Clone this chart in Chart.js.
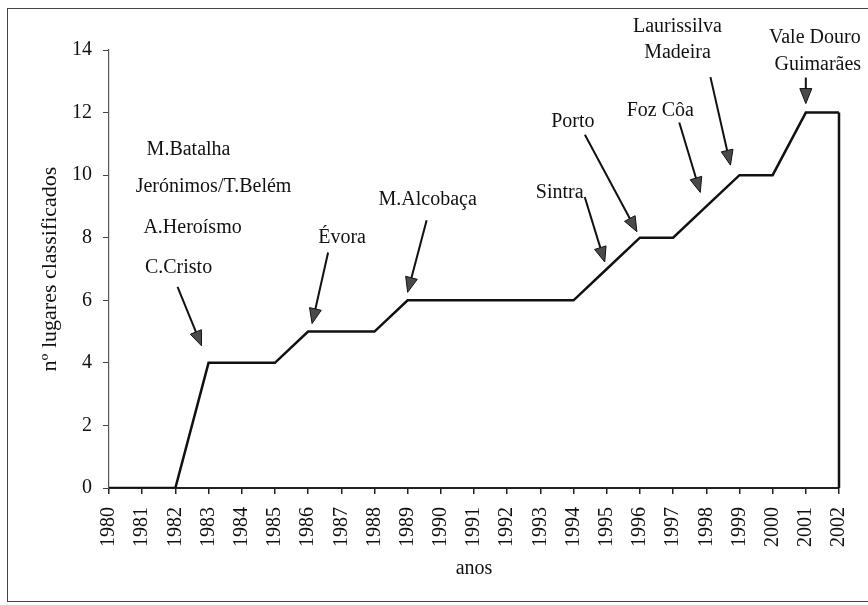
<!DOCTYPE html>
<html>
<head>
<meta charset="utf-8">
<script src="https://cdn.jsdelivr.net/npm/chart.js@4/dist/chart.umd.min.js"></script>
<style>
    body { margin: 0; background: #fff; overflow: hidden; }
    #frame {
        position: absolute; left: 7px; top: 8px; width: 900px; height: 592px;
        border: 1.5px solid #444; border-right: none; pointer-events: none;
    }
    canvas { position: absolute; left: 0; top: 0; }
</style>
</head>
<body>
<canvas id="sitesChart" width="868" height="605"></canvas>
<div id="frame"></div>
<script>
const years = ["1980", "1981", "1982", "1983", "1984", "1985", "1986", "1987", "1988", "1989", "1990",
    "1991", "1992", "1993", "1994", "1995", "1996", "1997", "1998", "1999", "2000", "2001", "2002"];
const sites = [0, 0, 0, 4, 4, 4, 5, 5, 5, 6, 6, 6, 6, 6, 6, 7, 8, 8, 9, 10, 10, 12, 12];
const yTicks = [0, 2, 4, 6, 8, 10, 12, 14];

// annotation texts and the year each arrow points at
const noteYears = ["1983", "1986", "1989", "1995", "1996", "1998", "1999", "2001"];
const noteTexts = [
    ["M.Batalha", "Jerónimos/T.Belém", "A.Heroísmo", "C.Cristo"],
    ["Évora"],
    ["M.Alcobaça"],
    ["Sintra"],
    ["Porto"],
    ["Foz Côa"],
    ["Laurissilva", "Madeira"],
    ["Vale Douro", "Guimarães"],
];

// pixel offsets from the anchored point: text centres, arrow start, arrow tip
const noteLayout = [
    { text: [[-20, -213], [5, -176], [-16, -135], [-30, -95]], from: [-31, -76], to: [-7, -17] },
    { text: [[34, -94]], from: [20, -79], to: [4, -8] },
    { text: [[20, -101]], from: [19, -80], to: [0, -8] },
    { text: [[-47, -76]], from: [-22, -72], to: [-2, -7] },
    { text: [[-67, -116]], from: [-55, -103], to: [-3, -6] },
    { text: [[-46, -96]], from: [-27, -84], to: [-6, -14] },
    { text: [[-62, -148], [-62, -122]], from: [-29, -98], to: [-9, -10] },
    { text: [[9, -75], [12, -48]], from: [0, -35], to: [0, -9] },
];

const serif = "'Liberation Serif', 'Times New Roman', serif";

function drawArrow(ctx, x1, y1, x2, y2) {
    const angle = Math.atan2(y2 - y1, x2 - x1);
    const headLen = 15;
    const headHalf = 6;
    const bx = x2 - headLen * Math.cos(angle);
    const by = y2 - headLen * Math.sin(angle);

    ctx.beginPath();
    ctx.moveTo(x1, y1);
    ctx.lineTo(bx, by);
    ctx.lineWidth = 2;
    ctx.strokeStyle = "#111";
    ctx.stroke();

    ctx.beginPath();
    ctx.moveTo(x2, y2);
    ctx.lineTo(bx + headHalf * Math.sin(angle), by - headHalf * Math.cos(angle));
    ctx.lineTo(bx - headHalf * Math.sin(angle), by + headHalf * Math.cos(angle));
    ctx.closePath();
    ctx.fillStyle = "#4a4a4a";
    ctx.fill();
    ctx.lineWidth = 1;
    ctx.stroke();
}

// closes the area outline at the last year and draws the labelled arrows
const notesPlugin = {
    id: "notes",
    afterDatasetsDraw(chart) {
        const ctx = chart.ctx;
        const xs = chart.scales.x;
        const ys = chart.scales.y;

        const last = sites.length - 1;
        ctx.save();
        ctx.beginPath();
        ctx.moveTo(xs.getPixelForValue(last), ys.getPixelForValue(sites[last]));
        ctx.lineTo(xs.getPixelForValue(last), ys.getPixelForValue(0));
        ctx.lineWidth = 2.5;
        ctx.strokeStyle = "#111";
        ctx.stroke();

        ctx.font = "20px " + serif;
        ctx.textAlign = "center";
        ctx.textBaseline = "middle";

        noteYears.forEach((year, i) => {
            const idx = years.indexOf(year);
            const px = xs.getPixelForValue(idx);
            const py = ys.getPixelForValue(sites[idx]);
            const layout = noteLayout[i];

            ctx.fillStyle = "#111";
            noteTexts[i].forEach((line, j) => {
                ctx.fillText(line, px + layout.text[j][0], py + layout.text[j][1]);
            });
            drawArrow(ctx, px + layout.from[0], py + layout.from[1], px + layout.to[0], py + layout.to[1]);
        });
        ctx.restore();
    },
};

const ctx = document.getElementById("sitesChart").getContext("2d");

new Chart(ctx, {
    type: "line",
    data: {
        labels: years,
        datasets: [
            {
                data: sites,
                borderColor: "#111",
                borderWidth: 2.5,
                pointRadius: 0,
                tension: 0,
                fill: false,
            },
        ],
    },
    options: {
        responsive: false,
        animation: false,
        layout: {
            padding: { left: 37, right: 29, top: 50, bottom: 24 },
        },
        plugins: {
            legend: { display: false },
            tooltip: { enabled: false },
        },
        scales: {
            x: {
                offset: false,
                afterFit: (scale) => {
                    scale.height = 93;
                    scale.paddingLeft = 0;
                    scale.paddingRight = 0;
                },
                grid: { drawOnChartArea: false, tickLength: 6, tickColor: "#222", lineWidth: 1.5 },
                border: { color: "#222", width: 2 },
                ticks: {
                    autoSkip: false,
                    minRotation: 90,
                    maxRotation: 90,
                    padding: 13,
                    color: "#111",
                    font: { family: serif, size: 20 },
                },
                title: {
                    display: true,
                    text: "anos",
                    color: "#111",
                    padding: { top: 0, bottom: 0 },
                    font: { family: serif, size: 20 },
                },
            },
            y: {
                min: 0,
                max: 14,
                afterFit: (scale) => { scale.width = 72; },
                afterBuildTicks: (scale) => { scale.ticks = yTicks.map((v) => ({ value: v })); },
                grid: { drawOnChartArea: false, tickLength: 6, tickColor: "#444", lineWidth: 1 },
                border: { color: "#555", width: 1.2 },
                ticks: {
                    padding: 11,
                    color: "#111",
                    font: { family: serif, size: 20 },
                },
                title: {
                    display: true,
                    text: "nº lugares classificados",
                    color: "#111",
                    padding: { top: 0, bottom: 0 },
                    font: { family: serif, size: 22 },
                },
            },
        },
    },
    plugins: [notesPlugin],
});
</script>
</body>
</html>
